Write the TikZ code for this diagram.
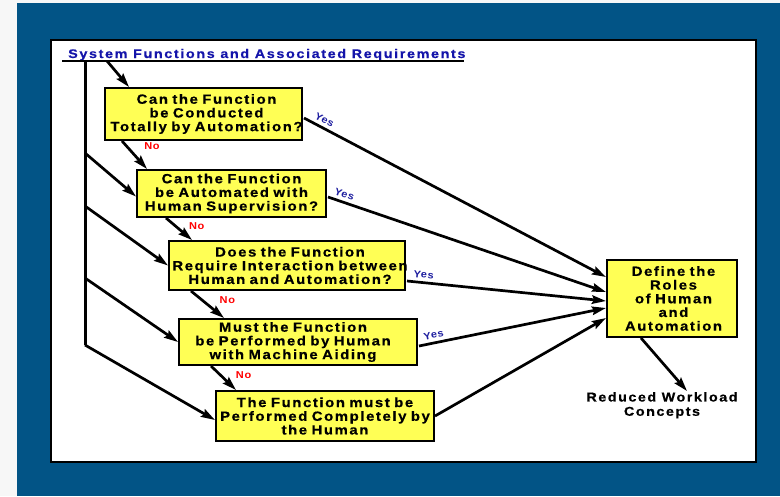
\documentclass[tikz,border=0pt]{standalone}
\usepackage{fontspec}
\setmainfont{Liberation Sans}
\newfontfamily\boxfont[LetterSpace=12,FakeStretch=1.12,FakeBold=0.6]{Liberation Sans}
\newfontfamily\titlefont[LetterSpace=13,FakeStretch=1.15,FakeBold=0.4]{Liberation Sans}
\newfontfamily\tagfont[LetterSpace=6,FakeStretch=1.1]{Liberation Sans}
\usetikzlibrary{arrows.meta,calc}
\definecolor{slateblue}{RGB}{2,84,134}
\definecolor{boxyellow}{RGB}{255,255,85}
\definecolor{titleblue}{RGB}{20,20,170}
\definecolor{yesblue}{RGB}{30,30,160}
\definecolor{nored}{RGB}{255,0,0}
% one centred line of a box; the optional argument nudges it sideways
\newcommand\bxl[2][0pt]{\makebox[\hsize]{\hspace*{#1}#2}}
\begin{document}
\begin{tikzpicture}[x=1pt,y=-1pt,
  qbox/.style={draw=black, line width=2pt, fill=boxyellow, inner xsep=0pt,
    inner ysep=0pt, align=center,
    font=\boxfont\bfseries\fontsize{13.3}{13.7}\selectfont},
  flow/.style={line width=2.7pt, line cap=butt,
    -{Stealth[length=14pt,width=8.5pt,inset=2pt]}},
  yestag/.style={text=yesblue, inner sep=1pt,
    font=\tagfont\bfseries\fontsize{10}{11}\selectfont},
  notag/.style={text=nored, inner sep=0pt, anchor=west,
    font=\tagfont\bfseries\fontsize{10}{11}\selectfont},
]
\useasboundingbox (0,0) rectangle (780,496);
% backdrop and white panel
\fill[gray!6] (0,0) rectangle (780,496);
\fill[slateblue] (17,3) rectangle (780,496);
\draw[line width=2pt, fill=white] (51,40) rectangle (756,462);

% heading with its rule and the left-hand spine
\node[inner sep=0pt, anchor=base west, text=titleblue,
  font=\titlefont\bfseries\fontsize{12.5}{14}\selectfont] (title) at (68,58)
  {System Functions and Associated Requirements};
\coordinate (ul0) at (62,61);
\coordinate (ul1) at (464,61);
\coordinate (ul2) at (107,61);
\coordinate (sp0) at (85,61);
\coordinate (sp1) at (85,153);
\coordinate (sp2) at (85,206);
\coordinate (sp3) at (85,278);
\coordinate (sp4) at (85,345);
\draw[line width=2.4pt] (ul0) -- (ul1);
\draw[line width=3pt] (sp0) -- (sp4);

% decision boxes
\node[qbox, text width=197pt, minimum height=52pt] (b1) at (203.5,114)
  {\bxl[6pt]{Can the Function}\\\bxl[6pt]{be Conducted}\\\bxl[6pt]{Totally by Automation?}};
\node[qbox, text width=189pt, minimum height=47pt] (b2) at (231.5,193.5)
  {\bxl{Can the Function}\\\bxl{be Automated with}\\\bxl{Human Supervision?}};
\node[qbox, text width=236pt, minimum height=49pt] (b3) at (287,265.5)
  {\bxl[6pt]{Does the Function}\\\bxl[6pt]{Require Interaction between}\\\bxl[6pt]{Human and Automation?}};
\node[qbox, text width=238pt, minimum height=46pt] (b4) at (298,342)
  {\bxl[-10pt]{Must the Function}\\\bxl[-10pt]{be Performed by Human}\\\bxl[-10pt]{with Machine Aiding}};
\node[qbox, text width=218pt, minimum height=50pt] (b5) at (325,416)
  {\bxl{The Function must be}\\\bxl{Performed Completely by}\\\bxl{the Human}};
\node[qbox, text width=130pt, minimum height=77pt] (d) at (672,298.5)
  {\bxl[3pt]{Define the}\\\bxl[3pt]{Roles}\\\bxl[3pt]{of Human}\\\bxl[3pt]{and}\\\bxl[3pt]{Automation}};
\node[inner sep=0pt, anchor=north, align=center,
  font=\boxfont\bfseries\fontsize{12.8}{14.3}\selectfont] (r) at (662,392)
  {Reduced Workload\\Concepts};

% entries from the spine
\draw[flow] (ul2) -- ($(b1.north west)+(25,0)$);
\draw[flow] (sp1) -- ($(b2.west)+(0,3)$);
\draw[flow] (sp2) -- (b3.west);
\draw[flow] (sp3) -- (b4.west);
\draw[flow] (sp4) -- ($(b5.west)+(0,4)$);

% "No" branches
\draw[flow] ($(b1.south west)+(18,0)$) -- node[notag, pos=.2, xshift=16pt] {No} ($(b2.north west)+(11,0)$);
\draw[flow] ($(b2.south west)+(30,0)$) -- node[notag, pos=.375, xshift=12pt] {No} ($(b3.north west)+(24,0)$);
\draw[flow] ($(b3.south west)+(23,0)$) -- node[notag, pos=.345, xshift=16pt] {No} ($(b4.north west)+(46,0)$);
\draw[flow] ($(b4.south west)+(33,0)$) -- node[notag, pos=.385, xshift=14pt] {No} ($(b5.north west)+(21,0)$);

% "Yes" branches into the role definition
\draw[flow] ($(b1.east)+(1,4)$) -- node[yestag, pos=.056, sloped, above=2pt] {Yes} ($(d.west)+(0,-21.5)$);
\draw[flow] ($(b2.east)+(1,3.5)$) -- node[yestag, pos=.05, sloped, above=2pt] {Yes} ($(d.west)+(0,-6.5)$);
\draw[flow] ($(b3.east)+(1,15.5)$) -- node[yestag, pos=.08, sloped, above=2pt] {Yes} ($(d.west)+(0,2.5)$);
\draw[flow] ($(b4.east)+(1,4)$) -- node[yestag, pos=.086, sloped, above=2pt] {Yes} ($(d.west)+(0,9.5)$);
\draw[flow] (b5.east) -- ($(d.west)+(0,19.5)$);

% outcome
\draw[flow] ($(d.south west)+(35,0)$) -- ($(r.north)+(25,-1)$);
\end{tikzpicture}
\end{document}
